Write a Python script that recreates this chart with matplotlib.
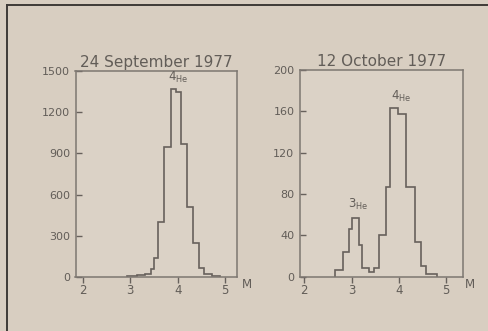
import numpy as np
import matplotlib.pyplot as plt
from matplotlib.lines import Line2D

# 24 September 1977 - mass histogram (bin edges in M, counts)
sep_edges = [2.93, 3.14, 3.32, 3.43, 3.50, 3.59, 3.72, 3.86, 3.97, 4.07,
             4.20, 4.33, 4.44, 4.56, 4.72, 4.90]
sep_counts = [4, 12, 25, 55, 140, 400, 950, 1370, 1345,
              970, 510, 250, 68, 20, 5]

# 12 October 1977
oct_edges = [2.65, 2.81, 2.95, 3.01, 3.16, 3.23, 3.37, 3.48, 3.59, 3.73,
             3.82, 3.98, 4.16, 4.34, 4.46, 4.58, 4.80]
oct_counts = [6, 24, 46, 57, 31, 8, 5, 8, 40, 87,
              163, 157, 87, 34, 10, 3]

titles = ['24 September 1977', '12 October 1977']
sep_yticks = [0, 300, 600, 900, 1200, 1500]
oct_yticks = [0, 40, 80, 120, 160, 200]
xticks = [2, 3, 4, 5]

bg = '#d8cec1'
ink = '#67615c'
txt = '#625d58'

fig = plt.figure(figsize=(4.89, 3.31), dpi=100, facecolor=bg)

ax1 = fig.add_axes([75.5/489, 1-277/331, 162/489, 206/331])
ax2 = fig.add_axes([300/489, 1-276.7/331, 162.7/489, 206.7/331])

panels = [
    (ax1, sep_edges, sep_counts, sep_yticks, (1.85, 5.26), titles[0]),
    (ax2, oct_edges, oct_counts, oct_yticks, (1.91, 5.35), titles[1]),
]

for ax, edges, counts, yt, xl, title in panels:
    ax.set_facecolor('#dbd2c6')
    ax.stairs(counts, edges, color=ink, lw=1.2, baseline=0)
    ax.set_xlim(*xl)
    ax.set_ylim(yt[0], yt[-1])
    ax.set_xticks(xticks)
    ax.set_yticks(yt)
    ax.tick_params(axis='x', direction='out', length=4, width=1, pad=1,
                   colors=ink, labelcolor=txt, labelsize=8.5)
    ax.tick_params(axis='y', direction='in', length=4, width=1, pad=4,
                   colors=ink, labelcolor=txt, labelsize=8)
    for s in ax.spines.values():
        s.set_color('#7d7771')
        s.set_linewidth(1.1)
    ax.set_title(title, fontsize=11, color=txt, pad=3)

ax1.text(4.02, 1395, r'$4_{\rm He}$', fontsize=8.5, color=txt,
         ha='center', va='bottom')
ax2.text(4.06, 167, r'$4_{\rm He}$', fontsize=8.5, color=txt,
         ha='center', va='bottom')
ax2.text(3.14, 63, r'$3_{\rm He}$', fontsize=8.5, color=txt,
         ha='center', va='bottom')

fig.text(247/489, 1-285/331, 'M', fontsize=8.5, color=txt, ha='center', va='center')
fig.text(470/489, 1-285/331, 'M', fontsize=8.5, color=txt, ha='center', va='center')

# scan border on left and top
fig.add_artist(Line2D([7/489, 7/489], [0, 1-5/331], transform=fig.transFigure,
                      color='#3e3a37', lw=1.4))
fig.add_artist(Line2D([7/489, 1], [1-5/331, 1-5/331], transform=fig.transFigure,
                      color='#3e3a37', lw=1.4))

fig.savefig('out.png', dpi=100, facecolor=bg)
